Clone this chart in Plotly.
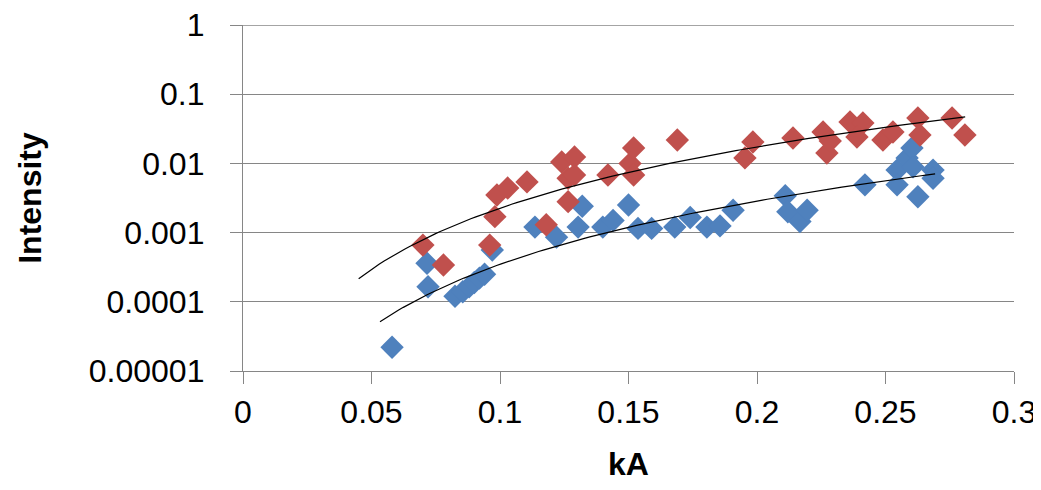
import numpy as np
import plotly.graph_objects as go

blue_x = [0.058, 0.0716, 0.072, 0.0825, 0.0855, 0.088, 0.090, 0.092, 0.094, 0.097,
          0.1136, 0.122, 0.1304, 0.132, 0.140, 0.144, 0.150, 0.1537, 0.159, 0.168,
          0.174, 0.1805, 0.1856, 0.1907, 0.211, 0.212, 0.2167, 0.2195, 0.242,
          0.2545, 0.2545, 0.2584, 0.2603, 0.2607, 0.2626, 0.2685, 0.2685]
blue_y = [2.2e-5, 3.6e-4, 1.65e-4, 1.2e-4, 1.4e-4, 1.65e-4, 1.9e-4, 2.2e-4, 2.5e-4, 5.6e-4,
          1.2e-3, 8.6e-4, 1.2e-3, 2.4e-3, 1.2e-3, 1.5e-3, 2.5e-3, 1.15e-3, 1.15e-3, 1.2e-3,
          1.65e-3, 1.2e-3, 1.25e-3, 2.1e-3, 3.4e-3, 2.0e-3, 1.45e-3, 2.1e-3, 4.9e-3,
          8.0e-3, 4.9e-3, 1.2e-2, 1.67e-2, 8.9e-3, 3.3e-3, 8.0e-3, 6.1e-3]

red_x = [0.070, 0.078, 0.096, 0.098, 0.0988, 0.103, 0.1105, 0.118, 0.124, 0.1265,
         0.1265, 0.129, 0.129, 0.142, 0.1506, 0.152, 0.152, 0.169, 0.1953, 0.1984,
         0.214, 0.2257, 0.2272, 0.2285, 0.2362, 0.2412, 0.2389, 0.249, 0.2529,
         0.2626, 0.2634, 0.2759, 0.2809]
red_y = [6.6e-4, 3.4e-4, 6.6e-4, 1.7e-3, 3.5e-3, 4.4e-3, 5.4e-3, 1.3e-3, 1.05e-2, 6.1e-3,
         2.8e-3, 1.24e-2, 6.8e-3, 6.8e-3, 1.0e-2, 6.8e-3, 1.67e-2, 2.18e-2, 1.2e-2, 2.04e-2,
         2.33e-2, 2.84e-2, 1.41e-2, 2.1e-2, 3.96e-2, 3.84e-2, 2.41e-2, 2.18e-2, 2.84e-2,
         4.53e-2, 2.57e-2, 4.53e-2, 2.57e-2]

# trendline extents (as drawn in the reference)
red_trend_range = [0.045, 0.281]
blue_trend_range = [0.0533, 0.2693]

y_ticks = [1e-5, 1e-4, 1e-3, 1e-2, 1e-1, 1]
y_tick_labels = ["0.00001", "0.0001", "0.001", "0.01", "0.1", "1"]
x_ticks = [0, 0.05, 0.1, 0.15, 0.2, 0.25, 0.3]
x_tick_labels = ["0", "0.05", "0.1", "0.15", "0.2", "0.25", "0.3"]

BLUE = "#4F81BD"
RED = "#C0504D"
GRID = "#868686"
FONT = "Liberation Sans"


def power_trend(xs, ys, xr):
    b, loga = np.polyfit(np.log(xs), np.log(ys), 1)
    tx = np.linspace(xr[0], xr[1], 120)
    return tx, np.exp(loga) * tx ** b


fig = go.Figure()
fig.add_trace(go.Scatter(x=blue_x, y=blue_y, mode="markers",
                         marker=dict(symbol="diamond", size=18, color=BLUE, line=dict(width=0)),
                         showlegend=False))
fig.add_trace(go.Scatter(x=red_x, y=red_y, mode="markers",
                         marker=dict(symbol="diamond", size=18, color=RED, line=dict(width=0)),
                         showlegend=False))
tx, ty = power_trend(red_x, red_y, red_trend_range)
fig.add_trace(go.Scatter(x=tx, y=ty, mode="lines", line=dict(color="black", width=1.2),
                         showlegend=False))
tx, ty = power_trend(blue_x, blue_y, blue_trend_range)
fig.add_trace(go.Scatter(x=tx, y=ty, mode="lines", line=dict(color="black", width=1.2),
                         showlegend=False))

fig.update_layout(
    width=1033, height=474,
    margin=dict(l=235, r=27, t=17, b=111, autoexpand=False),
    paper_bgcolor="white", plot_bgcolor="white",
    font=dict(family=FONT, size=32, color="black"),
)
fig.update_xaxes(range=[0, 0.3], tickvals=x_ticks, ticktext=x_tick_labels,
                 showgrid=False, zeroline=False, showline=True, linecolor=GRID, linewidth=1.3,
                 ticks="outside", ticklen=12, tickcolor=GRID, automargin=False,
                 ticklabeloverflow="allow",
                 title=dict(text="<b>kA</b>", font=dict(size=32), standoff=26))
fig.update_yaxes(type="log", range=[-5, 0], tickvals=y_ticks, ticktext=y_tick_labels,
                 showgrid=True, gridcolor=GRID, gridwidth=1.3, zeroline=False,
                 showline=True, linecolor=GRID, linewidth=1.3, automargin=False,
                 ticks="outside", ticklen=12, tickcolor=GRID, ticklabelstandoff=19,
                 ticklabeloverflow="allow",
                 title=dict(text="<b>Intensity</b>", font=dict(size=32), standoff=37))
# top gridline at y = 1 (edge of the plotting area)
fig.add_shape(type="line", xref="paper", yref="y", x0=0, x1=1, y0=1, y1=1,
              line=dict(color=GRID, width=1.3), layer="below")

fig.write_html("out.html")
